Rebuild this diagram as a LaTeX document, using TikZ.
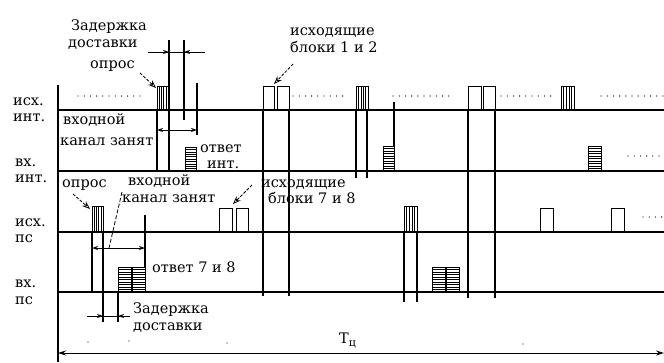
\documentclass[tikz,border=0pt]{standalone}
\usepackage{fontspec}
\setmainfont{DejaVu Serif}
\usetikzlibrary{arrows.meta}
\newcommand\VHatch[4]{%
  \draw[blk] (#1,#2) rectangle (#3,#4);
  \foreach \k in {1,...,4} \draw[hatch] ({#1+\k*(#3-#1)/5},#2) -- ({#1+\k*(#3-#1)/5},#4);
}
\newcommand\HHatch[4]{%
  \draw[blk] (#1,#2) rectangle (#3,#4);
  \foreach \k in {1,...,9} \draw[hatch] (#1,{#2+\k*(#4-#2)/10}) -- (#3,{#2+\k*(#4-#2)/10});
}
\begin{document}
\begin{tikzpicture}[x=1pt,y=-1pt,
  base/.style={line width=1.1pt},
  vl/.style={line width=1.1pt},
  blk/.style={line width=1pt},
  hatch/.style={line width=0.6pt},
  dotrow/.style={line width=1.3pt, line cap=round, dash pattern=on 0pt off 6.2pt},
  dimline/.style={line width=0.8pt},
  dimtip/.style={line width=0.8pt, -{Stealth[length=6pt,width=4pt]}},
  dimboth/.style={line width=0.8pt, {Stealth[length=6pt,width=4pt]}-{Stealth[length=6pt,width=4pt]}},
  ptr/.style={line width=0.8pt, dash pattern=on 3pt off 1.5pt, -{Stealth[length=8pt,width=6pt,open]}},
  lead/.style={line width=0.8pt, dash pattern=on 4pt off 2pt},
  txt/.style={inner sep=0pt, anchor=base west, font=\fontsize{14.5}{17}\selectfont},
]
\useasboundingbox (0,0) rectangle (664,362);

% ---- left axis and baselines
\draw[vl] (58,85) -- (58,362);
\draw[base] (58,110) -- (664,110);
\draw[base] (58,171) -- (664,171);
\draw[base] (58,232) -- (664,232);
\draw[base] (58,292) -- (664,292);
\draw[line width=1pt, {Stealth[length=8pt,width=5pt]}-{Stealth[length=8pt,width=5pt]}] (58,353) -- (664,353);

% ---- row labels
\node[txt] (l1a) at (13,105) {исх.};
\node[txt] (l1b) at (13,121) {инт.};
\node[txt] (l2a) at (15,166) {вх.};
\node[txt] (l2b) at (15,182) {инт.};
\node[txt] (l3a) at (15,226) {исх.};
\node[txt] (l3b) at (15,242) {пс};
\node[txt] (l4a) at (15,287) {вх.};
\node[txt] (l4b) at (15,304) {пс};

% ---- row 1 (исх. инт.)
\draw[dotrow] (78,96) -- (141,96);
\VHatch{157}{86}{168}{110}
\draw[dotrow] (293,96) -- (348,96);
\draw[dotrow] (393,96) -- (454,96);
\draw[dotrow] (501,96) -- (556,96);
\draw[dotrow] (601,96) -- (664,96);
\draw[blk] (263,86) rectangle (274,110);
\draw[blk] (277,86) rectangle (289,110);
\VHatch{356}{86}{368}{110}
\draw[blk] (468,86) rectangle (481,110);
\draw[blk] (483,86) rectangle (495,110);
\VHatch{561}{86}{574}{110}

% ---- vertical markers
\draw[vl] (157,110) -- (157,171);
\draw[vl] (169,40) -- (169,171);
\draw[vl] (184,40) -- (184,120);
\draw[vl] (197,83) -- (197,135);
\draw[vl] (263,110) -- (263,296);
\draw[vl] (289,110) -- (289,296);
\draw[vl] (356,110) -- (356,178);
\draw[vl] (367,110) -- (367,178);
\draw[vl] (394,102) -- (394,146);
\draw[vl] (468,110) -- (468,298);
\draw[vl] (495,110) -- (495,298);
\draw[vl] (92,232) -- (92,292);
\draw[vl] (103,232) -- (103,322);
\draw[vl] (118,292) -- (118,322);
\draw[vl] (145,215) -- (145,267);
\draw[vl] (404,232) -- (404,302);
\draw[vl] (417,232) -- (417,302);

% ---- top dimension: Задержка доставки
\draw[dimline] (148,52) -- (205,52);
\draw[dimtip] (152,52) -- (169,52);
\draw[dimtip] (201,52) -- (184,52);
\node[txt] (zd1) at (71,30) {Задержка};
\node[txt] (zd2) at (68,47) {доставки};
\node[txt] (op1) at (90,68) {опрос};
\draw[ptr] (140,73) -- (156,88);
\node[txt] (ib1) at (290,35) {исходящие};
\node[txt] (ib2) at (290,52) {блоки 1 и 2};
\draw[ptr] (293,64) -- (274,84);

% ---- row 2 (вх. инт.)
\node[txt] (vk1) at (63,124) {входной};
\node[txt] (vk2) at (60,145) {канал занят};
\draw[dimboth] (157,130) -- (197,130);
\HHatch{185}{147}{196}{171}
\node[txt] (ot1) at (200,152) {ответ};
\node[txt] (ot2) at (207,168) {инт.};
\HHatch{383}{146}{394}{171}
\HHatch{588}{146}{601}{171}
\draw[dotrow] (628,156) -- (664,156);

% ---- row 3 (исх. пс)
\node[txt] (op2) at (62,187) {опрос};
\draw[ptr] (73,194) -- (90,209);
\VHatch{92}{206}{103}{232}
\node[txt] (vk3) at (128,185) {входной};
\node[txt] (vk4) at (122,202) {канал занят};
\draw[lead] (122,192) -- (109,248);
\draw[dimboth] (92,248) -- (145,248);
\draw[blk] (219,208) rectangle (232,232);
\draw[blk] (236,208) rectangle (248,232);
\draw[ptr] (252,185) -- (233,204);
\node[txt] (ib3) at (261,187) {исходящие};
\node[txt] (ib4) at (268,203) {блоки 7 и 8};
\VHatch{404}{206}{417}{232}
\draw[blk] (540,208) rectangle (553,232);
\draw[blk] (611,208) rectangle (624,232);
\draw[dotrow] (643,217) -- (664,217);

% ---- row 4 (вх. пс)
\HHatch{118}{267}{131}{292}
\HHatch{132}{267}{145}{292}
\node[txt] (ot3) at (152,272) {ответ 7 и 8};
\HHatch{432}{267}{445}{292}
\HHatch{446}{267}{459}{292}

% ---- bottom dimension: Задержка доставки
\draw[dimline] (87,316) -- (130,316);
\draw[dimtip] (89,316) -- (103,316);
\draw[dimtip] (128,316) -- (118,316);
\node[txt] (zd3) at (133,313) {Задержка};
\node[txt] (zd4) at (133,330) {доставки};

% ---- cycle period
\node[txt] (tc) at (339,343) {T\raisebox{-0.45ex}{\fontsize{11}{12}\selectfont ц}};
\foreach \p in {(88,342),(129,341),(227,343),(523,344)} \fill \p circle (0.7pt);
\end{tikzpicture}
\end{document}
